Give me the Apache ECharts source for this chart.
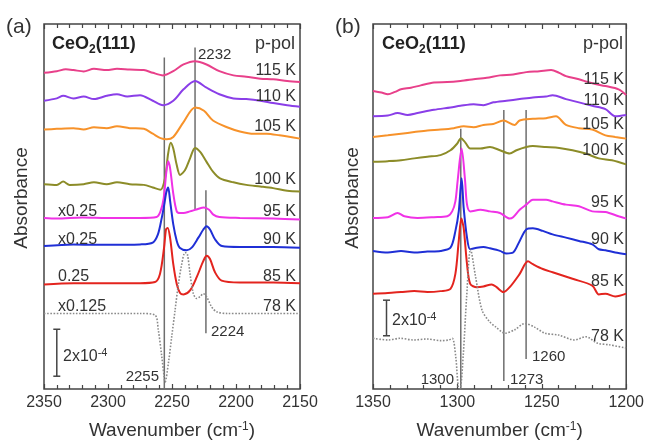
<!DOCTYPE html>
<html>
<head>
<meta charset="utf-8">
<script src="https://cdn.jsdelivr.net/npm/echarts@6/dist/echarts.min.js"></script>
<style>
  html, body { margin: 0; padding: 0; background: #fff; }
  #chart { width: 647px; height: 445px; }
</style>
</head>
<body>
<div id="chart"></div>
<script>
// spectra, [wavenumber, absorbance (1e-5, stacked)]
var temps = ['115 K', '110 K', '105 K', '100 K', '95 K', '90 K', '85 K', '78 K'];
var colors = ['#e8408a', '#8a3ee8', '#f7922a', '#8c8c28', '#f032e6', '#1f2fd6', '#e3241e', '#8a8a8a'];

// panel (a): CO stretch region
var a115 = [[2350,136.0],[2340,136.7],[2333,137.5],[2327,137.2],[2319,136.6],[2311,137.7],[2301,137.2],[2293,137.7],[2283,137.4],[2272,137.2],[2265,136.0],[2257,134.9],[2249,136.7],[2241,139.6],[2232,141.0],[2223,139.6],[2213,136.7],[2202,134.9],[2192,134.3],[2181,133.5],[2171,133.2],[2160,132.5],[2150,132.0]];
var a110 = [[2350,124.0],[2340,125.0],[2335,126.1],[2327,125.0],[2319,125.8],[2311,124.7],[2301,126.1],[2293,126.8],[2285,125.8],[2275,126.4],[2265,124.0],[2257,122.1],[2249,124.0],[2241,128.9],[2232,132.5],[2223,129.6],[2213,126.8],[2202,125.0],[2192,124.7],[2181,124.0],[2171,123.0],[2160,122.1],[2150,121.4]];
var a105 = [[2350,111.6],[2340,111.9],[2327,112.2],[2319,111.6],[2311,112.6],[2301,112.2],[2293,113.0],[2283,112.2],[2272,111.9],[2265,109.8],[2259,107.9],[2254,107.4],[2249,108.4],[2241,114.8],[2232,121.1],[2225,119.7],[2218,115.5],[2207,112.6],[2197,110.8],[2186,109.8],[2176,109.8],[2166,109.1],[2150,107.7]];
var a100 = [[2350,88.1],[2340,87.8],[2335,89.2],[2330,87.8],[2319,88.1],[2311,88.9],[2301,88.1],[2293,88.9],[2283,88.1],[2272,87.8],[2265,86.7],[2259,85.7],[2255.5,90.6],[2253,101.3],[2251,105.9],[2249,103.4],[2246.3,96.3],[2243.7,92.1],[2239.8,94.2],[2235.9,99.2],[2232,103.7],[2228,102.0],[2223,97.7],[2218,93.5],[2212.5,90.6],[2202,88.9],[2192,87.8],[2181,87.1],[2171,86.4],[2160,85.3],[2150,85.0]];
var a95 = [[2350,73.6],[2340,73.3],[2320,73.8],[2301,73.6],[2275,73.6],[2262,74.0],[2259,76.4],[2256.5,82],[2254.5,93],[2253,98.0],[2251.5,95],[2249,84],[2246.3,76.4],[2243.7,75.7],[2241,75.7],[2236,76.4],[2231,77.2],[2225,78.1],[2221,77.1],[2217.7,75.0],[2213,74.0],[2197,73.6],[2171,73.3],[2150,72.9]];
var a90 = [[2350,61.5],[2327,62.2],[2301,62.0],[2275,62.2],[2265,63.0],[2261,66.5],[2258,73.6],[2256,79.5],[2254.5,84.5],[2253,86.7],[2251.5,81],[2249,70.8],[2246.3,63.7],[2244,60.8],[2238.5,59.7],[2234.6,60.8],[2229.4,65.1],[2225.5,68.6],[2223,70.0],[2220.3,68.6],[2216.4,64.4],[2211,61.5],[2197,61.1],[2171,61.1],[2150,60.8]];
var a85 = [[2350,45.0],[2327,45.5],[2301,45.5],[2275,45.5],[2263.3,46.0],[2259.4,49.5],[2256.2,60.8],[2254.7,68.6],[2253.4,69.3],[2251.5,65.1],[2249,53.7],[2246.3,45.2],[2243.7,41.3],[2241,40.7],[2235.9,42.4],[2230.7,48.1],[2225.5,55.1],[2222.9,57.3],[2220.3,55.9],[2216.4,50.2],[2211.2,46.6],[2197,45.8],[2171,45.8],[2150,45.5]];
var a78 = [[2350,32.5],[2327,32.5],[2301,32.5],[2275,32.5],[2263.3,31.8],[2260.7,25.4],[2258,14.0],[2256.2,5.5],[2255.4,3.0],[2252.8,11.2],[2250.2,22.6],[2247.6,33.9],[2245,45.2],[2242.4,53.7],[2239.8,58.7],[2238,58.0],[2235.9,49.5],[2233.3,41.0],[2230.7,38.9],[2228,39.8],[2225.5,41.0],[2222.9,39.6],[2219,35.3],[2215.1,33.2],[2207,32.5],[2150,32.5]];

// panel (b): O-C-O region
var b115 = [[1350,128.2],[1345,127.5],[1341.2,126.8],[1337,127.8],[1333.4,128.9],[1327.5,129.6],[1321.7,130.6],[1313.9,131.8],[1306,132.0],[1298.2,132.5],[1290.4,133.2],[1282.6,133.9],[1274.8,134.9],[1267,135.3],[1259.2,136.3],[1251.4,136.7],[1244.5,137.2],[1239.7,136.0],[1235.7,134.6],[1228,133.2],[1220.1,131.5],[1212.3,130.3],[1204.5,128.9],[1200,126.5]];
var b110 = [[1350,117.3],[1341.2,117.6],[1335.4,118.7],[1329.5,117.9],[1323.6,118.7],[1313.9,120.1],[1304.1,121.1],[1298.2,121.8],[1290.4,122.5],[1284.6,122.1],[1278.7,123.3],[1270.9,124.0],[1263.1,124.7],[1255.3,125.4],[1247.5,125.8],[1243.6,126.4],[1235.7,124.7],[1228,123.3],[1220.1,121.8],[1212.3,120.4],[1206.5,117.3],[1200,117.9]];
var b105 = [[1350,108.4],[1341.2,109.1],[1333.4,109.8],[1325.6,110.5],[1317.8,111.2],[1310,111.6],[1302.1,112.2],[1296.3,113.0],[1290.4,112.6],[1284.6,113.6],[1278.7,114.0],[1272.8,115.5],[1266,113.6],[1263.1,115.5],[1255.3,116.2],[1247.5,116.5],[1241.6,117.3],[1235.7,113.6],[1228,112.2],[1220.1,111.6],[1212.3,109.1],[1206.5,108.4],[1200,107.7]];
var b100 = [[1350,97.7],[1341.2,98.0],[1333.4,98.4],[1325.6,99.2],[1317.8,99.9],[1310,100.6],[1304.1,102.7],[1300.2,105.5],[1297.9,107.9],[1295.3,106.0],[1292.4,103.4],[1286.5,103.4],[1280.7,104.1],[1274.8,102.7],[1269,101.3],[1265,102.7],[1259.2,104.1],[1255.3,104.5],[1247.5,104.1],[1239.7,103.7],[1231.8,102.7],[1224,101.3],[1216.2,99.2],[1208.4,98.4],[1200,96.6]];
var b95 = [[1350,73.6],[1341.2,73.9],[1335.4,75.7],[1331.4,74.3],[1323.6,73.6],[1313.9,73.9],[1306,74.3],[1303.1,76.4],[1301.2,80.7],[1299.8,90],[1297.5,103.4],[1295.5,90],[1294.3,79.3],[1292.4,76.4],[1286.5,77.1],[1280.7,76.4],[1274.8,75.7],[1269,73.3],[1267,73.9],[1263.1,77.1],[1259.2,79.3],[1255.3,81.4],[1247.5,81.4],[1243.6,80.7],[1235.7,79.3],[1228,78.6],[1220.1,76.4],[1212.3,76.1],[1204.5,74.3],[1200,73.3]];
var b90 = [[1350,59.4],[1341.2,58.7],[1333.4,59.4],[1325.6,58.7],[1317.8,59.1],[1310,59.4],[1304.1,60.8],[1301.2,67.9],[1299.2,76.4],[1297.5,90.6],[1296.3,78],[1294.3,65.1],[1292.4,60.1],[1288.5,60.8],[1284.6,61.1],[1280.7,60.5],[1274.8,59.4],[1270.9,58.3],[1267,58.7],[1263.1,63.7],[1259.2,68.6],[1255.3,69.1],[1249.4,68.0],[1243.6,66.5],[1235.7,65.1],[1228,63.7],[1220.1,62.2],[1216.2,60.1],[1212.3,59.7],[1206.5,58.7],[1200,58.0]];
var b85 = [[1350,41.0],[1341.2,41.3],[1333.4,41.7],[1325.6,42.1],[1317.8,41.7],[1310,42.1],[1304.1,43.1],[1301.2,49.5],[1299.2,63.7],[1297.7,73.3],[1296.3,69.3],[1294.3,53.7],[1292.4,45.2],[1288.5,43.8],[1284.6,44.1],[1279.7,45.0],[1276.8,43.8],[1272.8,41.7],[1269,43.8],[1263.1,49.5],[1258.2,54.9],[1255.3,53.7],[1249.4,51.6],[1243.6,50.2],[1231.8,47.4],[1220.1,44.5],[1216.2,40.7],[1212.3,41.0],[1206.5,39.8],[1200,41.0]];
var b78 = [[1350,21.8],[1341,21.1],[1334,21.8],[1326,21.1],[1318,21.5],[1310,20.8],[1305,21.1],[1303,21.8],[1301,14.0],[1299.5,1.0],[1298.5,0],[1296.5,15],[1294.5,40],[1292.2,60.1],[1289.2,48.1],[1285.4,33.9],[1281,29],[1277.5,26.8],[1271.7,24.0],[1266,25.5],[1260,28.2],[1254,26.5],[1248.2,24.0],[1240,23.2],[1230.7,21.1],[1224,22.5],[1217,19.7],[1210,19.0],[1200,17.6]];

// marker lines: position, bottom, top
var refWnA = [2256, 2232, 2223.5];
var refLoA = [0, 77, 24];
var refHiA = [142.6, 146.9, 85.5];
var refWnB = [1298, 1272.5, 1259.3];
var refLoB = [0, 3.4, 12.9];
var refHiB = [111.9, 120.0, 120.0];

// 2x10^-4 scale bars: position, bottom, top
var barA = [2340, 5.5, 25.7];
var barB = [1342, 22.9, 38.2];

var chart = echarts.init(document.getElementById('chart'), null, {renderer: 'canvas'});
var FONT = '"Liberation Sans", Arial, Helvetica, sans-serif';
var INK = '#333';
var AXIS = '#444';

function xAxes(grid, min, max, top) {
    var ax = {
        gridIndex: grid, type: 'value', min: min, max: max, interval: 50, inverse: true,
        position: top ? 'top' : 'bottom',
        axisLine: {show: false},
        axisTick: {inside: true, length: 5, lineStyle: {color: AXIS, width: 1.2}},
        minorTick: {show: true, splitNumber: 5, length: 4, lineStyle: {color: AXIS, width: 1.2}},
        splitLine: {show: false},
        axisLabel: {
            show: !top, fontSize: 16, color: INK, margin: 6, fontFamily: FONT,
            formatter: function (v) { return String(v); }
        }
    };
    if (!top) {
        ax.name = '{n|Wavenumber (cm}{p|-1}{n|)}';
        ax.nameLocation = 'middle';
        ax.nameGap = 32;
        ax.nameTextStyle = {
            rich: {
                n: {fontSize: 19, color: INK, fontFamily: FONT},
                p: {fontSize: 12, color: INK, fontFamily: FONT, verticalAlign: 'top'}
            }
        };
    }
    return ax;
}

function spectrum(data, i, xi, yi) {
    var dotted = i === 7;
    return {
        type: 'line', name: temps[i], data: data, xAxisIndex: xi, yAxisIndex: yi,
        showSymbol: false, smooth: 0.3, z: 3,
        lineStyle: {color: colors[i], width: dotted ? 1.6 : 2, type: dotted ? 'dotted' : 'solid'}
    };
}

function refLine(wn, lo, hi, xi, yi) {
    return {
        type: 'line', data: [[wn, lo], [wn, hi]], xAxisIndex: xi, yAxisIndex: yi,
        showSymbol: false, z: 2, silent: true,
        lineStyle: {color: '#6e6e6e', width: 1.5}
    };
}

function renderBar(params, api) {
    var top = api.coord([api.value(0), api.value(2)]);
    var bot = api.coord([api.value(0), api.value(1)]);
    var st = {stroke: AXIS, lineWidth: 1.5};
    return {
        type: 'group', children: [
            {type: 'line', shape: {x1: top[0], y1: top[1], x2: bot[0], y2: bot[1]}, style: st},
            {type: 'line', shape: {x1: top[0] - 3.5, y1: top[1], x2: top[0] + 3.5, y2: top[1]}, style: st},
            {type: 'line', shape: {x1: bot[0] - 3.5, y1: bot[1], x2: bot[0] + 3.5, y2: bot[1]}, style: st}
        ]
    };
}

var series = [];
var setsA = [a115, a110, a105, a100, a95, a90, a85, a78];
var setsB = [b115, b110, b105, b100, b95, b90, b85, b78];
for (var i = 0; i < refWnA.length; i++) series.push(refLine(refWnA[i], refLoA[i], refHiA[i], 0, 0));
for (var j = 0; j < refWnB.length; j++) series.push(refLine(refWnB[j], refLoB[j], refHiB[j], 2, 1));
setsA.forEach(function (d, k) { series.push(spectrum(d, k, 0, 0)); });
setsB.forEach(function (d, k) { series.push(spectrum(d, k, 2, 1)); });
series.push({type: 'custom', xAxisIndex: 0, yAxisIndex: 0, renderItem: renderBar, data: [barA], z: 4});
series.push({type: 'custom', xAxisIndex: 2, yAxisIndex: 1, renderItem: renderBar, data: [barB], z: 4});

// text annotations
function txt(x, y, s, size, align, extra) {
    var st = {text: s, fontSize: size, fill: INK, fontFamily: FONT, align: align || 'left', verticalAlign: 'middle'};
    if (extra) for (var k in extra) st[k] = extra[k];
    return {type: 'text', x: x, y: y, style: st, z: 10};
}
var ceo2 = {
    rich: {
        b: {fontSize: 18, fontWeight: 'bold', fill: '#222', fontFamily: FONT, lineHeight: 24},
        s: {fontSize: 12, fontWeight: 'bold', fill: '#222', fontFamily: FONT, lineHeight: 24, verticalAlign: 'bottom'}
    }
};
var scaleTxt = {
    rich: {
        n: {fontSize: 16, fill: INK, fontFamily: FONT, lineHeight: 20},
        p: {fontSize: 11, fill: INK, fontFamily: FONT, lineHeight: 20, verticalAlign: 'top'}
    }
};
var tempYA = [71, 97, 127, 180, 212, 240, 277, 307];
var tempYB = [80, 101, 125, 151, 203, 240, 282, 337];
var factorA = ['x0.25', 'x0.25', '0.25', 'x0.125'];

var graphics = [
    txt(6, 27, '(a)', 21), txt(335, 27, '(b)', 21),
    txt(52, 44, '{b|CeO}{s|2}{b|(111)}', 18, 'left', ceo2),
    txt(382, 44, '{b|CeO}{s|2}{b|(111)}', 18, 'left', ceo2),
    txt(295, 44, 'p-pol', 18, 'right'), txt(623, 44, 'p-pol', 18, 'right'),
    txt(198, 55, '2232', 15), txt(211, 332, '2224', 15), txt(159, 377, '2255', 15, 'right'),
    txt(454, 380, '1300', 15, 'right'), txt(510, 380, '1273', 15), txt(532, 357, '1260', 15),
    txt(63, 357, '{n|2x10}{p|-4}', 16, 'left', scaleTxt),
    txt(392, 321, '{n|2x10}{p|-4}', 16, 'left', scaleTxt),
    {type: 'text', x: 22, y: 198, rotation: Math.PI / 2, z: 10,
        style: {text: 'Absorbance', fontSize: 19, fill: INK, fontFamily: FONT, align: 'center', verticalAlign: 'middle'}},
    {type: 'text', x: 353, y: 198, rotation: Math.PI / 2, z: 10,
        style: {text: 'Absorbance', fontSize: 19, fill: INK, fontFamily: FONT, align: 'center', verticalAlign: 'middle'}}
];
temps.forEach(function (t, k) {
    graphics.push(txt(296, tempYA[k], t, 16, 'right'));
    graphics.push(txt(624, tempYB[k], t, 16, 'right'));
});
factorA.forEach(function (f, k) {
    graphics.push(txt(58, tempYA[k + 4], f, 16));
});

var option = {
    animation: false,
    backgroundColor: '#fff',
    textStyle: {fontFamily: FONT},
    grid: [
        {left: 44, top: 24, width: 256, height: 369, show: true, borderColor: AXIS, borderWidth: 1.5},
        {left: 373, top: 24, width: 256, height: 369, show: true, borderColor: AXIS, borderWidth: 1.5}
    ],
    xAxis: [
        xAxes(0, 2150, 2350, false), xAxes(0, 2150, 2350, true),
        xAxes(1, 1200, 1350, false), xAxes(1, 1200, 1350, true)
    ],
    yAxis: [
        {gridIndex: 0, type: 'value', min: 0, max: 157, show: false},
        {gridIndex: 1, type: 'value', min: 0, max: 157, show: false}
    ],
    series: series,
    graphic: graphics
};
chart.setOption(option);
</script>
</body>
</html>
